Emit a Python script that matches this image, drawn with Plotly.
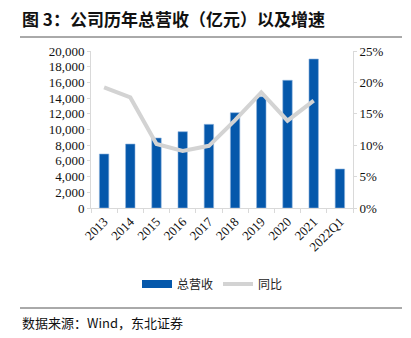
import plotly.graph_objects as go

categories = ["2013", "2014", "2015", "2016", "2017", "2018", "2019", "2020", "2021", "2022Q1"]
revenue = [6880, 8150, 8920, 9720, 10660, 12140, 14180, 16270, 18980, 4970]
growth = [19.2, 17.6, 10.2, 9.1, 9.9, 14.0, 18.4, 13.9, 17.1, None]
left_ticks = list(range(0, 20001, 2000))
right_ticks = [0, 5, 10, 15, 20, 25]
right_labels = ["0%", "5%", "10%", "15%", "20%", "25%"]

W, H = 411, 338
L, R, T, B = 91, 353, 51, 208
pw, ph = R - L, B - T

def px(x):
    return (x - L) / pw

def py(y):
    return (B - y) / ph

serif = "Liberation Serif"
cjk = "Noto Sans CJK SC"
axis_col = "#d9d9d9"
bar_col = "#0558AB"

fig = go.Figure()
fig.add_trace(go.Bar(
    x=categories, y=revenue, name="总营收", showlegend=False,
    marker=dict(color=bar_col, line=dict(color="#8fb3dd", width=0.6)),
    yaxis="y",
))
# legend proxy for the bars (wide rectangle swatch)
fig.add_trace(go.Scatter(
    x=[categories[0]], y=[None], name="总营收", mode="lines",
    line=dict(color=bar_col, width=8), yaxis="y", legendrank=1,
))
fig.add_trace(go.Scatter(
    x=categories, y=growth, name="同比", mode="lines",
    line=dict(color="#d3d3d3", width=4),
    yaxis="y2", legendrank=2,
))

fig.update_layout(
    width=W, height=H,
    margin=dict(l=L, r=W - R, t=T, b=H - B),
    paper_bgcolor="white", plot_bgcolor="white",
    bargap=0.64,
    showlegend=True,
    legend=dict(orientation="h", x=px(137), xanchor="left", y=py(284), yanchor="middle",
                font=dict(family=cjk, size=12, color="#222"),
                traceorder="normal", itemwidth=30, tracegroupgap=0),
    xaxis=dict(
        type="category", tickangle=-45,
        tickfont=dict(family=serif, size=13, color="#111"),
        showline=True, linecolor=axis_col, linewidth=1,
        ticks="outside", ticklen=4, tickcolor=axis_col, tickson="boundaries",
        showgrid=False,
    ),
    yaxis=dict(
        range=[0, 20000], tickvals=left_ticks, tickformat=",",
        tickfont=dict(family=serif, size=13, color="#111"),
        showline=True, linecolor=axis_col, linewidth=1,
        ticks="outside", ticklen=3, tickcolor=axis_col,
        showgrid=False, zeroline=False,
    ),
    yaxis2=dict(
        range=[0, 25], tickmode="array", tickvals=right_ticks, ticktext=right_labels,
        overlaying="y", side="right", anchor="x",
        tickfont=dict(family=serif, size=13, color="#111"),
        showline=True, linecolor=axis_col, linewidth=1,
        ticks="outside", ticklen=3, tickcolor=axis_col,
        showgrid=False, zeroline=False,
    ),
    annotations=[
        dict(text="<b>图 3：公司历年总营收（亿元）以及增速</b>", xref="paper", yref="paper",
             x=px(20), y=py(18), xanchor="left", yanchor="middle", showarrow=False,
             font=dict(family=cjk, size=17, color="#111")),
        dict(text="数据来源：Wind，东北证券", xref="paper", yref="paper",
             x=px(20), y=py(322), xanchor="left", yanchor="middle", showarrow=False,
             font=dict(family=cjk, size=13, color="#111")),
    ],
    shapes=[
        dict(type="line", xref="paper", yref="paper", x0=px(20), x1=px(402), y0=py(37), y1=py(37),
             line=dict(color="#555", width=1)),
        dict(type="line", xref="paper", yref="paper", x0=px(20), x1=px(402), y0=py(308), y1=py(308),
             line=dict(color="#555", width=1)),
    ],
)

fig.write_html("out.html")
